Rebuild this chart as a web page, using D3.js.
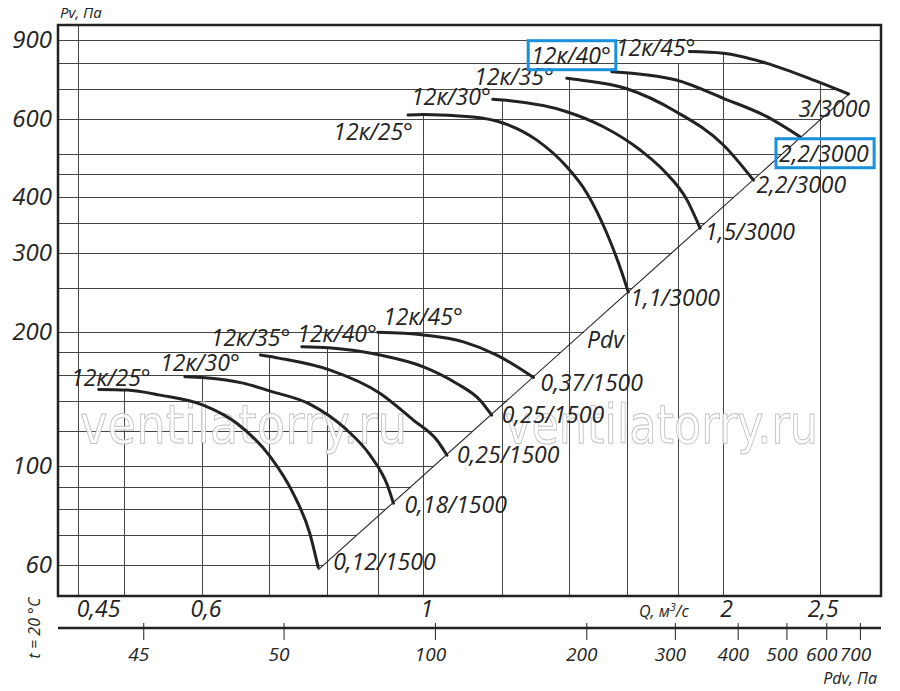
<!DOCTYPE html>
<html lang="ru">
<head>
<meta charset="UTF-8">
<title>12к fan curves</title>
<script src="https://d3js.org/d3.v7.min.js"></script>
<style>
    body { margin: 0; background: #fff; }
    svg text { font-family: "Open Sans", "Noto Sans", sans-serif; font-style: italic; fill: #222; }
    .grid line { stroke: #444; stroke-width: 1; shape-rendering: crispEdges; }
    .curve { fill: none; stroke: #222; stroke-width: 3; stroke-linecap: round; }
    .wm { font-family: "DejaVu Sans", sans-serif; font-style: normal; font-weight: normal; fill: #fff; fill-opacity: 0.85; stroke: #c2c2c2; stroke-width: 1; }
</style>
</head>
<body>
<div id="chart"></div>
<script>
// blade angle / motor (kW / rpm)
const angles = ["12к/25°", "12к/30°", "12к/35°", "12к/40°", "12к/45°"];
const motors1500 = ["0,12/1500", "0,18/1500", "0,25/1500", "0,25/1500", "0,37/1500"];
const motors3000 = ["1,1/3000", "1,5/3000", "2,2/3000", "2,2/3000", "3/3000"];

// [Q m3/s, Pv Pa]
const curves1500 = [
    [[0.472, 148.5], [0.504, 148], [0.544, 144.2], [0.601, 137], [0.650, 124.6], [0.702, 104.9], [0.740, 86.9], [0.769, 70.7], [0.784, 59.4]],
    [[0.576, 158.5], [0.604, 157.7], [0.659, 153.4], [0.702, 147.2], [0.769, 137.7], [0.834, 121.6], [0.884, 105.8], [0.920, 90.7], [0.933, 82.6]],
    [[0.686, 177.3], [0.718, 174.3], [0.806, 164.1], [0.905, 145.5], [0.977, 126.8], [1.032, 114.3], [1.056, 105.8]],
    [[0.755, 185], [0.803, 184.1], [0.905, 177.3], [1.0, 166.9], [1.080, 153.2], [1.140, 140.5], [1.171, 130.1]],
    [[0.900, 199.3], [1.0, 196.6], [1.097, 189.8], [1.185, 177.3], [1.290, 158]]
];
const curves3000 = [
    [[0.965, 611], [1.0, 613], [1.122, 605], [1.202, 586.6], [1.300, 537], [1.393, 468], [1.459, 409], [1.528, 332.6], [1.583, 270.6], [1.606, 245.3]],
    [[1.174, 662.7], [1.202, 660], [1.393, 621.6], [1.516, 575.3], [1.651, 510.2], [1.741, 460.2], [1.840, 394.1], [1.896, 341.2]],
    [[1.393, 738.5], [1.437, 732], [1.598, 700.6], [1.794, 621.6], [2.001, 523.6], [2.145, 437]],
    [[1.546, 764], [1.794, 732], [2.001, 666], [2.213, 605.9], [2.389, 546.4]],
    [[1.850, 847.4], [2.001, 840.3], [2.213, 797.7], [2.488, 725.6], [2.673, 681]]
];
const pdvLine = [[0.784, 58.6], [2.673, 680]];

const pTicks = [60, 100, 200, 300, 400, 600, 900];
const pGrid = [60, 70, 80, 90, 100, 120, 140, 160, 180, 200, 250, 300, 350, 400, 450, 500, 600, 700, 800, 900];
const qTicks = [0.45, 0.6, 1, 2, 2.5];
const qGrid = [0.45, 0.5, 0.6, 0.7, 0.8, 0.9, 1, 1.2, 1.4, 1.6, 1.8, 2, 2.5];
const qGridTopFix = { 1.8: 800 };
const pdvTicks = [26.3, 50, 100, 200, 300, 400, 500, 600, 700];
const pdvTickLabels = ["45", "50", "100", "200", "300", "400", "500", "600", "700"];

// label offsets in px from the curve start / end
const angleOff1500 = [[52, -3], [55, -6], [30, -9], [75, -5], [85, -7]];
const angleOff3000 = [[5, 25], [-2, 6], [-13, 7], [-1, -8], [6, 4]];
const motorOff1500 = [[15, 3], [11, 10], [10, 8], [10, 8], [7, 14]];
const motorOff3000 = [[2, 14], [5, 12], [3, 13], [-21, 25], [-50, 23]];

const margin = { top: 25, left: 58 };
const width = 823, height = 571;

const x = d3.scaleLog().domain([0.4296, 2.881]).range([0, width]);
const y = d3.scaleLog().domain([51.2, 972]).range([height, 0]);
const xPdv = d3.scaleLog().domain([17.8, 771]).range([0, width]);

const fmt = d => String(d).replace(".", ",");

const svg = d3.select("#chart").append("svg")
    .attr("width", 900).attr("height", 691);
const g = svg.append("g").attr("transform", `translate(${margin.left},${margin.top})`);

const allCurves = curves1500.concat(curves3000);

// log-log interpolation along a polyline
function interpAt(pts, q) {
    for (let i = 0; i < pts.length - 1; i++) {
        const a = pts[i], b = pts[i + 1];
        if (q >= a[0] && q <= b[0]) {
            const t = (Math.log(q) - Math.log(a[0])) / (Math.log(b[0]) - Math.log(a[0]));
            return Math.exp(Math.log(a[1]) + t * (Math.log(b[1]) - Math.log(a[1])));
        }
    }
    return null;
}
function crossAt(pts, p) {
    for (let i = 0; i < pts.length - 1; i++) {
        const a = pts[i], b = pts[i + 1];
        if ((p - a[1]) * (p - b[1]) <= 0 && a[1] !== b[1]) {
            const t = (Math.log(p) - Math.log(a[1])) / (Math.log(b[1]) - Math.log(a[1]));
            return Math.exp(Math.log(a[0]) + t * (Math.log(b[0]) - Math.log(a[0])));
        }
    }
    return null;
}

function gridTop(q) {
    if (qGridTopFix[q]) return y(qGridTopFix[q]);
    let best = null;
    allCurves.forEach(c => {
        const p = interpAt(c, q);
        if (p !== null && (best === null || p > best)) best = p;
    });
    return best === null ? 0 : y(best);
}
function gridRight(p) {
    if (p >= pdvLine[0][1] && p <= pdvLine[1][1]) {
        const t = (Math.log(p) - Math.log(pdvLine[0][1])) / (Math.log(pdvLine[1][1]) - Math.log(pdvLine[0][1]));
        return x(Math.exp(Math.log(pdvLine[0][0]) + t * (Math.log(pdvLine[1][0]) - Math.log(pdvLine[0][0]))));
    }
    let best = null;
    curves3000.forEach(c => {
        const q = crossAt(c, p);
        if (q !== null && (best === null || q > best)) best = q;
    });
    return best === null ? width : x(best);
}

// grid
const grid = g.append("g").attr("class", "grid");
grid.selectAll(".h").data(pGrid).enter().append("line")
    .attr("x1", 0).attr("x2", d => gridRight(d))
    .attr("y1", d => Math.round(y(d)) + 0.5).attr("y2", d => Math.round(y(d)) + 0.5);
grid.selectAll(".v").data(qGrid).enter().append("line")
    .attr("x1", d => Math.round(x(d)) + 0.5).attr("x2", d => Math.round(x(d)) + 0.5)
    .attr("y1", height).attr("y2", d => gridTop(d));

// watermark
[[80 - margin.left, 327], [505 - margin.left, 313]].forEach(w => {
    g.append("text").attr("class", "wm")
        .attr("x", w[0]).attr("y", 443 - margin.top)
        .attr("font-size", 54)
        .attr("textLength", w[1]).attr("lengthAdjust", "spacingAndGlyphs")
        .text("ventilatorry.ru");
});

// Pdv line
const straight = d3.line().x(d => x(d[0])).y(d => y(d[1]));
g.append("path").attr("d", straight(pdvLine))
    .attr("fill", "none").attr("stroke", "#222").attr("stroke-width", 1.1);

const pxA = [x(pdvLine[0][0]), y(pdvLine[0][1])], pxB = [x(pdvLine[1][0]), y(pdvLine[1][1])];
g.append("text")
    .attr("x", pxA[0] + 0.503 * (pxB[0] - pxA[0]) + 2)
    .attr("y", pxA[1] + 0.503 * (pxB[1] - pxA[1]) + 17)
    .attr("font-size", 23).text("Pdv");

// curves
const smooth = d3.line().x(d => x(d[0])).y(d => y(d[1])).curve(d3.curveMonotoneX);
const boxes = [];

function drawGroup(curves, motors, angleOff, motorOff, boxed) {
    curves.forEach((c, i) => {
        g.append("path").attr("class", "curve").attr("d", smooth(c));
        const s = c[0], e = c[c.length - 1];
        const a = g.append("text")
            .attr("x", x(s[0]) + angleOff[i][0]).attr("y", y(s[1]) + angleOff[i][1])
            .attr("text-anchor", "end").attr("font-size", 23)
            .text(angles[i]);
        const m = g.append("text")
            .attr("x", x(e[0]) + motorOff[i][0]).attr("y", y(e[1]) + motorOff[i][1])
            .attr("font-size", 23)
            .text(motors[i]);
        if (boxed === i) {
            boxes.push([a, y(s[1]) + angleOff[i][1]]);
            boxes.push([m, y(e[1]) + motorOff[i][1]]);
        }
    });
}

drawGroup(curves1500, motors1500, angleOff1500, motorOff1500, -1);
drawGroup(curves3000, motors3000, angleOff3000, motorOff3000, 3);

// Y axis
const yAxis = g.append("g")
    .call(d3.axisLeft(y).tickValues(pTicks).tickSize(0).tickPadding(6).tickFormat(d => d));
yAxis.select(".domain").remove();
yAxis.selectAll("text").attr("font-size", 24).attr("font-family", null).attr("fill", null);

// Q labels
const qAxis = g.append("g").attr("transform", `translate(0,${height})`)
    .call(d3.axisBottom(x).tickValues(qTicks).tickSize(0).tickPadding(5).tickFormat(fmt));
qAxis.select(".domain").remove();
qAxis.selectAll("text").attr("font-size", 23).attr("font-family", null).attr("fill", null)
    .attr("dx", d => d === 0.45 ? 20 : 3);

// Pdv axis
const pAxis = g.append("g").attr("transform", `translate(0,${height + 32})`)
    .call(d3.axisBottom(xPdv).tickValues(pdvTicks).tickSize(12).tickPadding(8)
        .tickFormat((d, i) => pdvTickLabels[i]));
pAxis.select(".domain").attr("d", `M0,0H${width}`).attr("stroke", "#222").attr("stroke-width", 2.6);
pAxis.selectAll(".tick line").attr("y1", -5).attr("stroke", "#222");
pAxis.selectAll("text").attr("font-size", 19).attr("font-family", null).attr("fill", null).attr("dx", -5);

// frame
g.append("rect").attr("width", width).attr("height", height)
    .attr("fill", "none").attr("stroke", "#222").attr("stroke-width", 2.5);

// axis titles
svg.append("text").attr("x", 60).attr("y", 18).attr("font-size", 15).text("Pv, Па");
svg.append("text").attr("x", 639).attr("y", 617).attr("font-size", 16)
    .html("Q, м<tspan dy='-6' font-size='11'>3</tspan><tspan dy='6'>/с</tspan>");
svg.append("text").attr("x", 877).attr("y", 684).attr("text-anchor", "end").attr("font-size", 16).text("Pdv, Па");
svg.append("text").attr("transform", "translate(40,628) rotate(-90)")
    .attr("text-anchor", "middle").attr("font-size", 16).text("t = 20 °C");

// blue highlight boxes
boxes.forEach(b => {
    const bb = b[0].node().getBBox();
    g.append("rect")
        .attr("x", bb.x - 3).attr("y", b[1] - 23)
        .attr("width", bb.width + 8).attr("height", 29)
        .attr("fill", "none").attr("stroke", "#1591dd").attr("stroke-width", 3);
});
</script>
</body>
</html>
